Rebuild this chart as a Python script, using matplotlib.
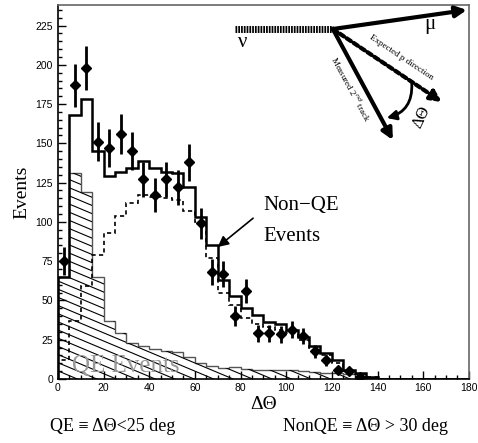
import numpy as np
import matplotlib
matplotlib.use("Agg")
import matplotlib.pyplot as plt
from matplotlib.ticker import MultipleLocator

# bin edges every 5 degrees, 0..180
edges = np.arange(0, 185, 5)

# total MC (solid)
total = [65, 168, 178, 145, 129, 132, 134, 139, 134, 132, 131, 122, 103, 85, 63, 53,
         45, 41, 36, 35, 31, 27, 21, 16.5, 12, 6, 4, 1.5, 0, 0, 0, 0, 0, 0, 0, 0]
# non-QE MC (dashed)
nonqe = [12, 37, 59, 79, 93, 104, 112, 117, 116, 115, 114, 107, 100, 77, 55, 47,
         39, 35, 33, 31, 29, 25, 19.5, 15, 10, 5, 3, 1, 0, 0, 0, 0, 0, 0, 0, 0]
# QE MC (hatched)
qe = [65, 131, 119, 65, 37, 29, 23, 21, 19, 18, 17, 14, 10, 8.5, 7, 7.5,
      6.5, 6, 6, 5.5, 5.5, 5, 4.5, 4, 4, 3, 2, 0.5, 0, 0, 0, 0, 0, 0, 0, 0]

# data points
data_x = [2.5, 7.5, 12.5, 17.5, 22.5, 27.5, 32.5, 37.5, 42.5, 47.5, 52.5, 57.5, 62.5,
          67.5, 72.5, 77.5, 82.5, 87.5, 92.5, 97.5, 102.5, 107.5, 112.5, 117.5, 122.5,
          127.5, 132.5]
data_y = [75, 187, 198, 151, 147, 156, 145, 127, 117, 127, 122, 138, 99,
          68, 67, 40, 56, 29, 29, 28.5, 31.5, 27.5, 17.5, 12, 6, 5.3, 1.5]
data_err = [8.7, 13.7, 14, 12.3, 12.1, 12.5, 12, 11.3, 10.8, 11.3, 11, 11.7, 10,
            8.2, 8.2, 6.3, 7.5, 5.4, 5.4, 5.3, 5.6, 5.2, 4.2, 3.5, 2.4, 2.3, 1.2]

serif = ["Liberation Serif", "DejaVu Serif"]
plt.rcParams["font.family"] = ["Liberation Sans", "DejaVu Sans"]

fig = plt.figure(figsize=(4.78, 4.43), dpi=100)
ax = fig.add_axes([0.121, 0.1445, 0.860, 0.844])

# QE hatched histogram with shallow hatch lines
qe_patch = ax.stairs(qe, edges, fill=True, facecolor="none", edgecolor="#555555", lw=1.0)
slope = 0.61
for b in np.arange(0, 260, 5.2):
    ln, = ax.plot([0, 180], [b, b - slope * 180], color="black", lw=0.8)
    ln.set_clip_path(qe_patch)

ax.stairs(nonqe, edges, color="black", lw=1.2, linestyle=(0, (2.5, 2)))
ax.stairs(total, edges, color="black", lw=1.8)

ax.errorbar(data_x, data_y, yerr=data_err, fmt="D", color="black", ms=5,
            elinewidth=2, capsize=0)

ax.set_xlim(0, 180)
ax.set_ylim(0, 238)
ax.set_yticks(np.arange(0, 226, 25))
ax.set_xticks(np.arange(0, 181, 20))
ax.xaxis.set_minor_locator(MultipleLocator(5))
ax.yaxis.set_minor_locator(MultipleLocator(5))
ax.tick_params(which="both", direction="in", labelsize=7.5, width=1)
ax.tick_params(which="major", length=6)
ax.tick_params(which="minor", length=3)
ax.tick_params(axis="x", pad=3)
for s in ax.spines.values():
    s.set_linewidth(1.2)
ax.spines["top"].set_color("#666666")
ax.spines["right"].set_color("#666666")

ax.set_ylabel("Events", family=serif, fontsize=14, labelpad=4)
ax.set_xlabel("ΔΘ", family=serif, fontsize=14, labelpad=2)

# text annotations
ax.text(0.034, 0.005, "QE Events", transform=ax.transAxes, family=serif,
        fontsize=18, color="#999999", va="bottom", ha="left")
ax.text(0.499, 0.465, "Non−QE", transform=ax.transAxes, family=serif,
        fontsize=15, va="center", ha="left")
ax.text(0.499, 0.38, "Events", transform=ax.transAxes, family=serif,
        fontsize=15, va="center", ha="left")
ax.annotate("", xy=(70, 84), xycoords="data", xytext=(0.475, 0.43),
            textcoords="axes fraction",
            arrowprops=dict(arrowstyle="-|>", color="black", lw=1.2,
                            mutation_scale=16, shrinkA=0, shrinkB=0))

# kinematics sketch
ax.plot([0.431, 0.669], [0.936, 0.936], transform=ax.transAxes, color="black",
        lw=5, linestyle=(0, (0.25, 0.15)), solid_capstyle="butt")
ax.text(0.45, 0.925, "ν", transform=ax.transAxes, family=serif, fontsize=15,
        va="top", ha="center")
arr = dict(arrowstyle="-|>", color="black", lw=3, mutation_scale=16,
           shrinkA=0, shrinkB=0)
ax.annotate("", xy=(0.995, 0.987), xytext=(0.669, 0.936), xycoords="axes fraction",
            arrowprops=arr)
ax.text(0.905, 0.947, "μ", transform=ax.transAxes, family=serif, fontsize=15,
        va="center", ha="center")
ax.annotate("", xy=(0.815, 0.639), xytext=(0.669, 0.936), xycoords="axes fraction",
            arrowprops=arr)
ax.annotate("", xy=(0.934, 0.741), xytext=(0.669, 0.936), xycoords="axes fraction",
            arrowprops=dict(arr, linestyle=(0, (1.2, 0.8))))
ax.text(0.712, 0.775, "Measured 2$^{nd}$ track", transform=ax.transAxes,
        family=serif, fontsize=6.5, rotation=-61.6, rotation_mode="anchor",
        ha="center", va="center")
ax.text(0.835, 0.86, "Expected p direction", transform=ax.transAxes,
        family=serif, fontsize=6.5, rotation=-33.8, rotation_mode="anchor",
        ha="center", va="center")
ax.annotate("", xy=(0.80, 0.698), xytext=(0.861, 0.79), xycoords="axes fraction",
            arrowprops=dict(arrowstyle="-|>", color="black", lw=2, mutation_scale=14,
                            shrinkA=0, shrinkB=0, connectionstyle="arc3,rad=-0.4"))
ax.text(0.885, 0.70, "ΔΘ", transform=ax.transAxes, family=serif, fontsize=12,
        rotation=65, ha="center", va="center")

# definitions below the plot
fig.text(0.105, 0.028, "QE ≡ ΔΘ<25 deg", family=serif, fontsize=13, ha="left")
fig.text(0.592, 0.028, "NonQE ≡ ΔΘ > 30 deg", family=serif, fontsize=13, ha="left")

fig.savefig("out.png", dpi=100)
